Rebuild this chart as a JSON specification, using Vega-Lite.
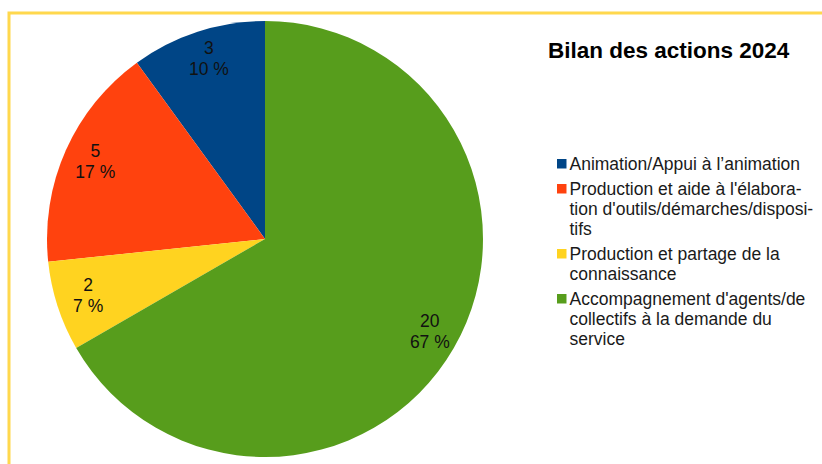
{
  "$schema": "https://vega.github.io/schema/vega-lite/v6.json",
  "autosize": "none",
  "padding": {"left": 9, "top": 13, "right": 0, "bottom": 0},
  "width": 830,
  "height": 470,
  "background": "white",
  "view": {"stroke": "#ffd84d", "strokeWidth": 3, "fill": "white"},
  "config": {
    "font": "Liberation Sans"
  },
  "data": {
    "values": [
      {"cat": "Animation/Appui à l'animation", "n": 3, "pct": 10, "ordre": 1},
      {"cat": "Production et aide à l'élaboration d'outils/démarches/dispositifs", "n": 5, "pct": 17, "ordre": 2},
      {"cat": "Production et partage de la connaissance", "n": 2, "pct": 7, "ordre": 3},
      {"cat": "Accompagnement d'agents/de collectifs à la demande du service", "n": 20, "pct": 67, "ordre": 4}
    ]
  },
  "encoding": {
    "theta": {"field": "n", "type": "quantitative", "stack": true},
    "order": {"field": "ordre", "sort": "descending"},
    "color": {
      "field": "cat",
      "type": "nominal",
      "scale": {
        "domain": [
          "Animation/Appui à l'animation",
          "Production et aide à l'élaboration d'outils/démarches/dispositifs",
          "Production et partage de la connaissance",
          "Accompagnement d'agents/de collectifs à la demande du service"
        ],
        "range": ["#004586", "#ff420e", "#ffd320", "#579d1c"]
      },
      "legend": {
        "orient": "none",
        "legendX": 539,
        "legendY": 27,
        "title": "Bilan des actions 2024",
        "titleFont": "Liberation Sans",
        "titleFontSize": 22.5,
        "titleFontWeight": "bold",
        "titleColor": "#000000",
        "titlePadding": 92.5,
        "titleLimit": 400,
        "symbolType": "square",
        "symbolSize": 90,
        "symbolStrokeWidth": 0,
        "symbolOffset": 5,
        "labelFont": "Liberation Sans",
        "labelFontSize": 17.5,
        "labelColor": "#1a1a1a",
        "labelLimit": 400,
        "labelOffset": -1,
        "labelBaseline": "top",
        "rowPadding": 6,
        "padding": 0,
        "encode": {
          "labels": {"update": {"dy": {"value": -7.5}, "lineHeight": {"value": 20}}}
        },
        "labelExpr": "datum.value === \"Animation/Appui à l'animation\" ? \"Animation/Appui à l’animation\" : datum.value === \"Production et aide à l'élaboration d'outils/démarches/dispositifs\" ? [\"Production et aide à l'élabora-\", \"tion d'outils/démarches/disposi-\", \"tifs\"] : datum.value === \"Production et partage de la connaissance\" ? [\"Production et partage de la\", \"connaissance\"] : [\" Accompagnement d'agents/de\", \"collectifs à la demande du\", \"service\"]"
      }
    }
  },
  "layer": [
    {
      "mark": {"type": "arc", "x": 256, "y": 226, "outerRadius": 218}
    },
    {
      "mark": {
        "type": "text",
        "x": 256,
        "y": 226,
        "radius": 188,
        "dx": 2,
        "dy": -11,
        "font": "Liberation Sans",
        "fontSize": 17.5,
        "lineHeight": 21,
        "text": {"expr": "[datum.n + '', datum.pct + ' %']"}
      },
      "encoding": {"color": {"value": "#111111"}}
    }
  ]
}
